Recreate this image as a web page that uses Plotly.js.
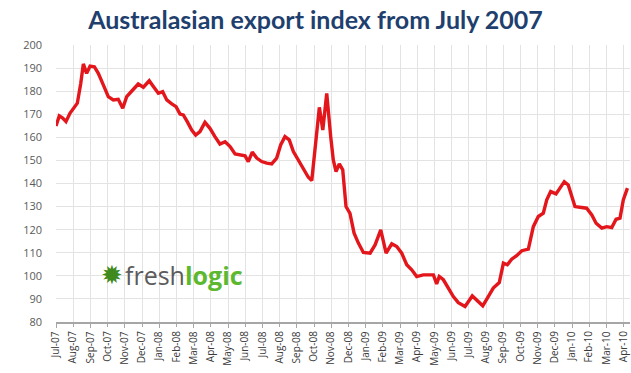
<!DOCTYPE html>
<html>
<head>
<meta charset="utf-8">
<script src="https://cdn.plot.ly/plotly-3.0.1.min.js"></script>
<style>html,body{margin:0;padding:0;background:#fff;}#chart{width:631px;height:373px;}</style>
</head>
<body>
<div id="chart"></div>
<script>
// Month labels (tick labels), one per month from Jul-07
const monthLabels = ["Jul-07","Aug-07","Sep-07","Oct-07","Nov-07","Dec-07","Jan-08","Feb-08","Mar-08","Apr-08","May-08","Jun-08","Jul-08","Aug-08","Sep-08","Oct-08","Nov-08","Dec-08","Jan-09","Feb-09","Mar-09","Apr-09","May-09","Jun-09","Jul-09","Aug-09","Sep-09","Oct-09","Nov-09","Dec-09","Jan-10","Feb-10","Mar-10","Apr-10"];

// Time of each observation, in months since July 2007
const monthsSinceJul07 = [0,0.19,0.39,0.58,0.81,1.01,1.24,1.44,1.59,1.78,1.98,2.23,2.46,2.75,3.04,3.33,3.62,3.88,4.11,4.46,4.78,5.08,5.42,5.66,5.95,6.20,6.44,6.73,6.98,7.21,7.40,7.63,7.89,8.12,8.37,8.66,8.95,9.24,9.53,9.83,10.12,10.41,10.70,10.99,11.18,11.41,11.67,11.96,12.25,12.54,12.83,13.06,13.31,13.56,13.80,14.09,14.38,14.67,14.87,15.12,15.31,15.51,15.74,15.97,16.12,16.28,16.47,16.67,16.86,17.09,17.33,17.58,17.87,18.26,18.55,18.88,19.19,19.52,19.81,20.10,20.39,20.68,20.97,21.35,21.74,21.94,22.13,22.28,22.52,22.81,23.10,23.39,23.78,24.20,24.46,24.81,25.13,25.42,25.77,26.01,26.24,26.49,26.78,27.08,27.46,27.75,28.04,28.33,28.53,28.76,29.07,29.30,29.55,29.78,29.98,30.17,30.56,30.85,31.15,31.40,31.73,32.02,32.31,32.56,32.79,32.98,33.22];

// Export index values
const exportIndex = [164.9,169.3,168.3,166.8,170.4,172.6,174.8,183.4,191.8,187.7,190.9,190.6,187.7,182.7,177.6,176.2,176.5,172.6,177.6,180.5,183.1,181.7,184.5,182.0,179.1,179.8,176.2,174.5,173.3,170.1,169.7,166.8,163.2,161.0,162.5,166.5,163.9,160.3,157.1,158.1,156.0,152.8,152.4,152.0,149.5,153.6,151.0,149.5,148.8,148.5,151.0,156.7,160.3,158.9,153.8,150.2,146.6,142.7,141.3,158.0,173.0,163.2,179.0,160.3,150.2,145.2,148.5,145.9,130.0,127.1,118.5,114.2,110.1,109.8,113.4,119.9,109.8,113.9,112.7,109.8,104.8,102.6,99.7,100.4,100.4,100.4,96.5,99.7,98.3,94.7,91.0,88.4,86.7,91.3,89.6,87.0,91.0,94.7,97.1,105.5,104.8,107.2,108.7,110.9,111.6,121.3,125.7,127.1,132.9,136.5,135.5,138.0,140.8,139.4,134.3,130.0,129.6,129.3,126.4,122.8,120.7,121.3,120.9,124.5,125.0,132.9,138.0];

const yTicks = [80,90,100,110,120,130,140,150,160,170,180,190,200];

// split month ticks over two overlaid axes so no label gets dropped
const evenVals = [], evenText = [], oddVals = [], oddText = [];
monthLabels.forEach((lab, i) => {
  if (i % 2 === 0) { evenVals.push(i); evenText.push(lab); }
  else { oddVals.push(i); oddText.push(lab); }
});

const trace = {
  x: monthsSinceJul07,
  y: exportIndex,
  type: 'scatter',
  mode: 'lines',
  line: {color: '#E3161C', width: 3.4},
  hoverinfo: 'skip'
};

// empty helper trace so the second (odd-month label) axis is drawn
const axisHelper = {
  x: [], y: [], type: 'scatter', mode: 'lines', xaxis: 'x2', yaxis: 'y',
  hoverinfo: 'skip', showlegend: false
};

const xTickFont = {family: '"Open Sans", sans-serif', size: 10, color: '#3a3a3a'};
const xRange = [0, 33.37];

const layout = {
  width: 631, height: 373,
  margin: {l: 56, r: 1, t: 45, b: 51},
  paper_bgcolor: '#ffffff',
  plot_bgcolor: '#ffffff',
  showlegend: false,
  title: {
    text: 'Australasian export index from July 2007',
    font: {family: 'Lato, "Open Sans", sans-serif', size: 25, color: '#1F3F6E', weight: 'bold'},
    x: 0.5, xanchor: 'center', y: 0.945, yanchor: 'middle', xref: 'container'
  },
  xaxis: {
    range: xRange,
    tickmode: 'array',
    tickvals: evenVals,
    ticktext: evenText,
    tickangle: -90,
    tickfont: xTickFont,
    showgrid: true, gridcolor: '#e3e3e3', gridwidth: 1,
    zeroline: false,
    showline: true, linecolor: '#a6a6a6', linewidth: 1.5,
    ticks: 'outside', ticklen: 4, tickcolor: '#a6a6a6',
    fixedrange: true
  },
  xaxis2: {
    range: xRange,
    overlaying: 'x', anchor: 'y', side: 'bottom',
    tickmode: 'array',
    tickvals: oddVals,
    ticktext: oddText,
    tickangle: -90,
    tickfont: xTickFont,
    showgrid: true, gridcolor: '#e3e3e3', gridwidth: 1,
    zeroline: false,
    showline: false,
    ticks: 'outside', ticklen: 4, tickcolor: '#a6a6a6',
    fixedrange: true
  },
  yaxis: {
    range: [80, 200],
    tickmode: 'array',
    tickvals: yTicks,
    ticktext: yTicks.map(String),
    tickfont: {family: '"Open Sans", sans-serif', size: 11, color: '#5a5a5a'},
    showgrid: true, gridcolor: '#e3e3e3', gridwidth: 1,
    zeroline: false,
    showline: false,
    ticks: '', ticklabelstandoff: 13,
    fixedrange: true
  },
  annotations: [
    {
      xref: 'paper', yref: 'paper', x: 0.097, y: 0.17, xanchor: 'center', yanchor: 'middle',
      text: '✹', showarrow: false,
      font: {family: 'DejaVu Sans', size: 26, color: '#3f8a1c'}
    },
    {
      xref: 'paper', yref: 'paper', x: 0.117, y: 0.17, xanchor: 'left', yanchor: 'middle',
      text: '<span style="color:#5b5b5b">fresh</span><b style="color:#5cb82e">logic</b>',
      showarrow: false,
      font: {family: '"Open Sans", sans-serif', size: 25, color: '#5b5b5b'}
    }
  ]
};

Plotly.newPlot('chart', [axisHelper, trace], layout, {displayModeBar: false, staticPlot: true});
</script>
</body>
</html>
